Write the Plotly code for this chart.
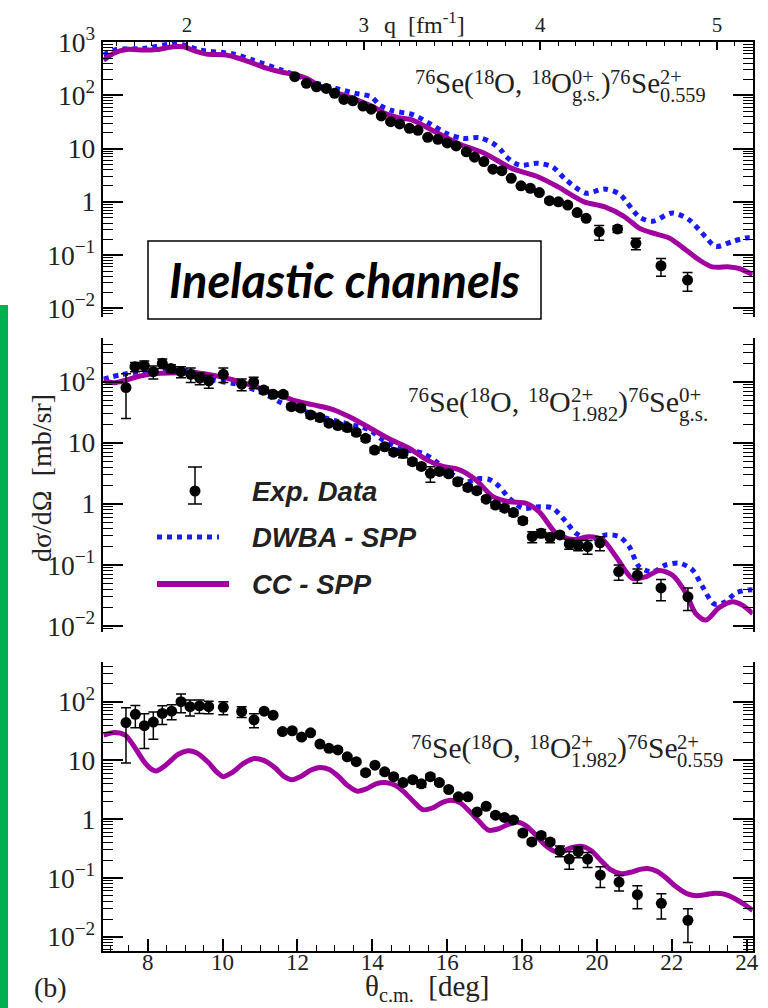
import plotly.graph_objects as go

W, H = 768, 1008

# ---------------- data ----------------
# Panel 1: 76Se(18O,18O g.s.)76Se 2+ 0.559
theta_p1 = [11.93, 12.24, 12.51, 12.77, 12.99, 13.24, 13.48, 13.75, 13.97, 14.24, 14.49, 14.73,
            14.99, 15.22, 15.48, 15.75, 16.00, 16.24, 16.51, 16.73, 16.98, 17.22, 17.46, 17.71,
            17.97, 18.22, 18.46, 18.73, 18.97, 19.22, 19.47, 19.71, 20.06, 20.55, 21.04, 21.71, 22.42]
xsec_p1 = [224, 168, 145, 135, 109, 84, 79, 63, 55, 41, 32, 29, 24, 22, 16.3, 14.9, 12.8, 11.2,
           8.7, 6.9, 5.7, 4.1, 3.85, 2.76, 2.0, 1.8, 1.49, 1.05, 1.0, 0.87, 0.63, 0.49, 0.275,
           0.31, 0.166, 0.063, 0.034]
err_p1 = [8, 6, 5, 5, 4, 3, 3, 2.5, 2, 1.6, 1.3, 1.2, 1.0, 0.9, 0.7, 0.6, 0.6, 0.5, 0.4, 0.35,
          0.3, 0.2, 0.2, 0.15, 0.1, 0.1, 0.08, 0.06, 0.06, 0.05, 0.04, 0.04, 0.085, 0.045, 0.04,
          0.023, 0.013]
cc_theta_p1 = [6.82, 7.08, 7.44, 7.88, 8.24, 8.68, 8.95, 9.31, 9.57, 10.11, 10.46, 10.82, 11.17,
               11.62, 11.88, 12.24, 12.55, 12.9, 13.44, 14.02, 14.33, 14.7, 15.04, 15.66, 16.37,
               16.99, 17.71, 18.42, 18.95, 19.66, 20.19, 20.73, 21.13, 21.48, 21.93, 22.37, 22.73,
               23.08, 23.53, 23.8, 24.16]
cc_p1 = [456, 614, 728, 708, 725, 816, 816, 660, 595, 570, 490, 400, 323, 268, 251, 209, 155, 120,
         90, 61, 46, 38, 35, 21, 11.8, 8.2, 4.3, 2.96, 1.93, 1.0, 0.81, 0.53, 0.32, 0.26, 0.21,
         0.126, 0.081, 0.060, 0.060, 0.056, 0.043]
dwba_theta_p1 = [6.82, 7.17, 7.88, 8.77, 9.0, 9.4, 10.28, 10.82, 11.6, 12.1, 12.5, 12.99, 13.53,
                 13.97, 14.19, 14.51, 15.1, 15.55, 16.0, 16.42, 16.86, 17.22, 17.44, 17.57, 17.93,
                 18.42, 18.82, 19.17, 19.71, 20.19, 20.6, 21.13, 21.48, 22.02, 22.46, 22.9, 23.17,
                 23.62, 23.97, 24.16]
dwba_p1 = [575, 725, 760, 944, 870, 710, 600, 457, 295, 220, 170, 138, 110, 94, 66, 52, 43, 29,
           19, 15.5, 16.0, 12.6, 9.3, 7.1, 4.9, 5.3, 4.5, 2.6, 1.45, 1.75, 1.4, 0.52, 0.43, 0.62,
           0.46, 0.22, 0.145, 0.18, 0.21, 0.21]

# Panel 2: 76Se(18O,18O 2+ 1.982)76Se g.s.
theta_p2 = [7.42, 7.66, 7.91, 8.15, 8.39, 8.62, 8.89, 9.15, 9.39, 9.63, 10.02, 10.51, 10.83,
            11.10, 11.35, 11.62, 11.84, 12.09, 12.35, 12.60, 12.84, 13.08, 13.33, 13.57, 13.82,
            14.06, 14.33, 14.57, 14.82, 15.07, 15.31, 15.55, 15.79, 16.04, 16.28, 16.55, 16.79,
            17.04, 17.29, 17.53, 17.77, 18.02, 18.27, 18.51, 18.75, 19.01, 19.26, 19.50, 19.75,
            20.08, 20.58, 21.08, 21.71, 22.43]
xsec_p2 = [80, 176, 183, 146, 200, 165, 146, 132, 114, 103, 132, 91, 98, 73, 62, 62, 39, 37,
           28.5, 25.8, 20.9, 19.1, 17.7, 14.8, 11.8, 7.6, 8.6, 7.0, 6.7, 4.9, 4.1, 3.16, 3.4,
           3.1, 2.3, 1.86, 1.64, 1.19, 0.955, 0.85, 0.72, 0.53, 0.29, 0.33, 0.28, 0.31, 0.22,
           0.21, 0.20, 0.23, 0.078, 0.068, 0.042, 0.030]
err_p2 = [55, 30, 35, 35, 35, 25, 30, 35, 25, 25, 35, 20, 20, 8, 6, 6, 4, 4, 3, 3, 2, 2, 2, 1.5,
          1.2, 0.8, 0.9, 0.7, 1.0, 0.5, 0.4, 0.9, 0.4, 0.3, 0.25, 0.2, 0.17, 0.12, 0.1, 0.09,
          0.08, 0.06, 0.06, 0.05, 0.05, 0.03, 0.04, 0.04, 0.05, 0.06, 0.022, 0.018, 0.016, 0.012]
cc_theta_p2 = [6.82, 7.12, 7.44, 7.8, 8.33, 9.04, 9.4, 9.93, 10.46, 11.0, 11.53, 11.88, 12.4,
               12.95, 13.48, 14.02, 14.46, 14.99, 15.44, 15.88, 16.33, 16.77, 17.22, 17.66, 18.11,
               18.46, 18.91, 19.35, 19.79, 20.15, 20.51, 20.95, 21.31, 21.66, 22.02, 22.37, 22.64,
               22.91, 23.26, 23.62, 23.88, 24.16]
cc_p2 = [104, 96, 107, 124, 137, 140, 138, 121, 100, 78, 61, 50, 42, 35, 25, 16.3, 11.5, 8.1,
         5.3, 4.1, 3.6, 2.45, 1.31, 1.08, 1.02, 0.74, 0.33, 0.26, 0.29, 0.26, 0.136, 0.060,
         0.064, 0.081, 0.068, 0.035, 0.016, 0.0125, 0.020, 0.025, 0.022, 0.016]
dwba_theta_p2 = [6.82, 7.26, 7.8, 8.5, 9.2, 9.75, 10.46, 11.17, 11.6, 12.06, 12.6, 13.13, 13.66,
                 13.93, 14.28, 14.73, 15.35, 15.71, 16.02, 16.51, 16.86, 17.13, 17.4, 17.66,
                 18.02, 18.46, 18.82, 19.17, 19.44, 19.79, 20.24, 20.6, 20.86, 21.13, 21.48,
                 21.84, 22.2, 22.55, 22.82, 23.13, 23.44, 23.71, 24.06, 24.16]
dwba_p2 = [110, 129, 146, 155, 146, 107, 89, 61, 44, 35, 27, 22, 18.3, 16.2, 11.1, 8.1, 6.7,
           4.9, 3.4, 2.3, 2.6, 2.5, 1.9, 1.23, 0.85, 0.90, 0.85, 0.51, 0.33, 0.26, 0.31, 0.29,
           0.20, 0.093, 0.077, 0.10, 0.107, 0.083, 0.044, 0.023, 0.025, 0.035, 0.039, 0.039]

# Panel 3: 76Se(18O,18O 2+ 1.982)76Se 2+ 0.559
theta_p3 = [7.42, 7.67, 7.91, 8.15, 8.39, 8.64, 8.89, 9.13, 9.38, 9.63, 10.02, 10.51, 10.84,
            11.11, 11.35, 11.60, 11.86, 12.11, 12.35, 12.60, 12.84, 13.08, 13.33, 13.57, 13.82,
            14.07, 14.33, 14.57, 14.82, 15.08, 15.31, 15.55, 15.79, 16.04, 16.30, 16.55, 16.80,
            17.04, 17.29, 17.53, 17.77, 18.02, 18.26, 18.51, 18.75, 19.01, 19.26, 19.50, 19.75,
            20.09, 20.59, 21.08, 21.72, 22.43]
xsec_p3 = [44, 61, 39, 45, 63, 69, 100, 82, 85, 82, 80, 68, 49, 69, 59, 31, 32, 25, 29.5, 19,
           16.1, 15.1, 11.5, 9.5, 6.2, 8.3, 6.4, 5.3, 4.2, 4.7, 4.0, 5.3, 4.2, 3.2, 2.4, 2.4,
           1.33, 1.66, 1.17, 1.07, 0.97, 0.58, 0.41, 0.53, 0.41, 0.29, 0.21, 0.28, 0.21, 0.112,
           0.085, 0.052, 0.037, 0.019]
err_p3 = [35, 25, 23, 22, 22, 20, 35, 25, 22, 20, 20, 14, 13, 4, 4, 2, 2, 2, 2, 1.2, 1, 1, 0.8,
          0.6, 0.5, 0.5, 0.5, 0.4, 0.3, 0.4, 0.5, 0.5, 0.3, 0.2, 0.15, 0.15, 0.1, 0.1, 0.08,
          0.08, 0.07, 0.05, 0.04, 0.05, 0.04, 0.06, 0.07, 0.06, 0.06, 0.043, 0.025, 0.022,
          0.017, 0.011]
cc_theta_p3 = [6.82, 7.1, 7.4, 7.62, 7.88, 8.05, 8.22, 8.5, 8.8, 9.05, 9.3, 9.6, 9.85, 10.02,
               10.25, 10.55, 10.85, 11.1, 11.4, 11.65, 11.85, 12.1, 12.35, 12.6, 12.85, 13.1,
               13.35, 13.6, 13.85, 14.1, 14.35, 14.6, 14.85, 15.1, 15.35, 15.6, 15.85, 16.1,
               16.35, 16.6, 16.85, 17.1, 17.35, 17.6, 17.85, 18.1, 18.35, 18.6, 18.9, 19.1,
               19.35, 19.6, 19.85, 20.1, 20.35, 20.65, 20.9, 21.15, 21.35, 21.6, 21.85, 22.1,
               22.4, 22.65, 22.9, 23.15, 23.4, 23.7, 23.95, 24.16]
cc_p3 = [27, 30, 27, 18, 10, 7.5, 6.6, 8.5, 12.5, 14.5, 13.5, 9.5, 6.3, 5.3, 6.2, 8.8, 10.8,
         10.0, 7.5, 5.3, 4.7, 5.4, 6.8, 7.6, 7.0, 5.3, 3.7, 3.0, 3.3, 4.0, 4.2, 3.8, 2.9, 2.0,
         1.45, 1.55, 1.9, 2.1, 1.9, 1.35, 0.92, 0.65, 0.68, 0.8, 0.9, 0.78, 0.55, 0.37, 0.28,
         0.29, 0.33, 0.345, 0.29, 0.2, 0.14, 0.118, 0.125, 0.14, 0.145, 0.13, 0.1, 0.072,
         0.054, 0.05, 0.052, 0.055, 0.053, 0.044, 0.035, 0.028]

legend_names = ["Exp. Data", "DWBA - SPP", "CC - SPP"]

# ---------------- style / geometry ----------------
C_CC = "#a0009f"
C_DW = "#1a1aff"
SERIF = "Liberation Serif"
SANS = "Liberation Sans"
TXT = "#222222"


def px(x):
    return x / W


def py(y):
    return 1 - y / H


X_DOM = [px(103.3), px(752.7)]
P_TOP = [42, 338, 661.7]
P_BOT = [317, 632, 951]
Y_RANGES = [[-2.163, 3.002], [-2.098, 2.715], [-2.243, 2.68]]
X_RANGE = [6.814, 24.16]
Q_RANGE = [1.526, 5.202]

fig = go.Figure()

panels = [
    (theta_p1, xsec_p1, err_p1, cc_theta_p1, cc_p1, dwba_theta_p1, dwba_p1),
    (theta_p2, xsec_p2, err_p2, cc_theta_p2, cc_p2, dwba_theta_p2, dwba_p2),
    (theta_p3, xsec_p3, err_p3, cc_theta_p3, cc_p3, None, None),
]

for i, (tx, ty, te, ccx, ccy, dwx, dwy) in enumerate(panels):
    xa = "x" if i == 0 else f"x{i+1}"
    ya = "y" if i == 0 else f"y{i+1}"
    if dwx is not None:
        fig.add_trace(go.Scatter(x=dwx, y=dwy, mode="lines", xaxis=xa, yaxis=ya,
                                 name=legend_names[1], showlegend=False,
                                 line=dict(color=C_DW, width=5, dash="dot",
                                           shape="spline", smoothing=0.8)))
    fig.add_trace(go.Scatter(x=ccx, y=ccy, mode="lines", xaxis=xa, yaxis=ya,
                             name=legend_names[2], showlegend=False,
                             line=dict(color=C_CC, width=5, shape="spline", smoothing=0.8)))
    fig.add_trace(go.Scatter(x=tx, y=ty, mode="markers", xaxis=xa, yaxis=ya,
                             name=legend_names[0], showlegend=False,
                             marker=dict(color="black", size=11, symbol="circle"),
                             error_y=dict(type="data", array=te, color="black",
                                          thickness=1.5, width=5)))

# dummy trace so the top q-axis is drawn
fig.add_trace(go.Scatter(x=[], y=[], xaxis="x4", yaxis="y", showlegend=False,
                         hoverinfo="skip"))

yaxis_common = dict(
    type="log", showline=True, linecolor="black", linewidth=1.5, mirror="ticks",
    ticks="inside", ticklen=20, tickwidth=1.5, tickcolor="black", dtick=1,
    exponentformat="power", showgrid=False, zeroline=False,
    tickfont=dict(family=SERIF, size=22, color=TXT), ticklabelstandoff=2,
    minor=dict(ticks="inside", ticklen=10, tickwidth=1.2, tickcolor="black",
               dtick="D1", showgrid=False),
)
hidden_x = dict(range=X_RANGE, domain=X_DOM, showline=False, ticks="", showticklabels=False,
                showgrid=False, zeroline=False)

layout = dict(
    width=W, height=H, margin=dict(l=0, r=0, t=0, b=0),
    paper_bgcolor="white", plot_bgcolor="rgba(0,0,0,0)", template="none",
    showlegend=False,
    xaxis=dict(hidden_x, anchor="y"),
    xaxis2=dict(hidden_x, anchor="y2"),
    xaxis3=dict(range=X_RANGE, domain=X_DOM, anchor="y3", showline=True, linecolor="black",
                linewidth=1.5, mirror=False, ticks="inside", ticklen=12, tickwidth=1.5,
                tickcolor="black", dtick=2, tick0=0, showgrid=False, zeroline=False,
                tickfont=dict(family=SERIF, size=23, color=TXT), ticklabelstandoff=-10,
                minor=dict(ticks="inside", ticklen=6, tickwidth=1.2, tickcolor="black",
                           dtick=0.5, showgrid=False)),
    xaxis4=dict(range=Q_RANGE, overlaying="x", side="top", anchor="y", showline=True,
                linecolor="black", linewidth=1.5, ticks="inside", ticklen=8, tickwidth=1.5,
                tickcolor="black", dtick=1, tick0=0, showgrid=False, zeroline=False,
                tickfont=dict(family=SERIF, size=21, color=TXT), ticklabelstandoff=0,
                minor=dict(ticks="inside", ticklen=4, tickwidth=1.2, tickcolor="black",
                           dtick=0.1, showgrid=False)),
)
for i in range(3):
    key = "yaxis" if i == 0 else f"yaxis{i+1}"
    layout[key] = dict(yaxis_common, range=Y_RANGES[i],
                       domain=[py(P_BOT[i]), py(P_TOP[i])],
                       anchor="x" if i == 0 else f"x{i+1}")
fig.update_layout(**layout)

shapes = []
annotations = []


def ann(x, y, text, size, family=SERIF, xanchor="left", yanchor="middle", angle=0, color=TXT):
    annotations.append(dict(x=px(x), y=py(y), xref="paper", yref="paper", text=text,
                            showarrow=False, xanchor=xanchor, yanchor=yanchor,
                            textangle=angle, borderpad=0, borderwidth=0,
                            font=dict(family=family, size=size, color=color)))


# green side bar
shapes.append(dict(type="rect", xref="paper", yref="paper", x0=0, x1=px(8), y0=0,
                   y1=py(305), fillcolor="#00b050", line=dict(width=0), layer="above"))

# "Inelastic channels" box
shapes.append(dict(type="rect", xref="paper", yref="paper", x0=px(148), x1=px(541),
                   y0=py(319), y1=py(241), fillcolor="white",
                   line=dict(color="black", width=1.5), layer="above"))
ann(344.5, 280, "<b><i>Inelastic channels</i></b>", 47, family="Lato", xanchor="center",
    color="black")

# legend (drawn by hand, as in the original)
shapes.append(dict(type="line", xref="paper", yref="paper", x0=px(195), x1=px(195),
                   y0=py(504), y1=py(467), line=dict(color="black", width=1.5)))
for yy in (467, 504):
    shapes.append(dict(type="line", xref="paper", yref="paper", x0=px(188), x1=px(202),
                       y0=py(yy), y1=py(yy), line=dict(color="black", width=1.5)))
shapes.append(dict(type="circle", xref="paper", yref="paper", x0=px(189.5), x1=px(200.5),
                   y0=py(496.5), y1=py(485.5), fillcolor="black", line=dict(width=0)))
shapes.append(dict(type="line", xref="paper", yref="paper", x0=px(157), x1=px(219),
                   y0=py(537), y1=py(537), line=dict(color=C_DW, width=5, dash="dot")))
shapes.append(dict(type="line", xref="paper", yref="paper", x0=px(157), x1=px(229),
                   y0=py(584), y1=py(584), line=dict(color=C_CC, width=6)))
for name, yy in zip(legend_names, (491, 537, 584)):
    ann(252, yy, f"<b><i>{name}</i></b>", 27.5, family=SANS)

# axis titles and panel tag
ann(41, 478, "dσ/dΩ\u00a0\u00a0[mb/sr]", 28, xanchor="center", angle=-90)
ann(427, 988, "θ<sub>c.m.</sub>\u00a0\u00a0[deg]", 29, xanchor="center")
ann(50, 987, "(b)", 28, xanchor="center")
ann(424, 23, "q\u00a0\u00a0[fm<sup>-1</sup>]", 24, xanchor="center")

# reaction labels built from pieces (stacked super/subscripts)
TIMES_W = {"0": .5, "1": .5, "2": .5, "3": .5, "4": .5, "5": .5, "6": .5, "7": .5, "8": .5,
           "9": .5, "S": .556, "e": .444, "(": .333, ")": .333, "O": .722, ",": .25,
           " ": .25, ".": .25, "+": .564, "g": .5, "s": .389}


def tw(s, fs):
    return sum(TIMES_W.get(c, .5) for c in s) * fs


def reaction_label(x0, base, fs, pieces):
    sfs = round(0.7 * fs, 1)
    main_c = base - 0.3375 * fs
    sup_c = base - 0.32 * fs - 0.3375 * sfs
    sub_c = base + 0.3 * fs - 0.3375 * sfs
    x = x0
    for p in pieces:
        if p[0] == "main":
            ann(x, main_c, p[1], fs)
            x += tw(p[1], fs)
        elif p[0] == "sup":
            ann(x, sup_c, p[1], sfs)
            x += tw(p[1], sfs)
        elif p[0] == "gap":
            x += p[1] * fs
        else:
            ann(x, sup_c, p[1], sfs)
            ann(x, sub_c, p[2], sfs)
            x += max(tw(p[1], sfs), tw(p[2], sfs))


def pieces_for(ejectile_sup, ejectile_sub, target_sup, target_sub):
    return [("sup", "76"), ("main", "Se("), ("sup", "18"), ("main", "O,"), ("gap", 0.3),
            ("sup", "18"), ("main", "O"), ("stack", ejectile_sup, ejectile_sub),
            ("main", ")"), ("sup", "76"), ("main", "Se"), ("stack", target_sup, target_sub)]


reaction_label(415, 93, 29, pieces_for("0+", "g.s.", "2+", "0.559"))
reaction_label(408, 412, 30, pieces_for("2+", "1.982", "0+", "g.s."))
reaction_label(411, 758, 29.5, pieces_for("2+", "1.982", "2+", "0.559"))

fig.update_layout(shapes=shapes, annotations=annotations)
fig.write_html("out.html")
